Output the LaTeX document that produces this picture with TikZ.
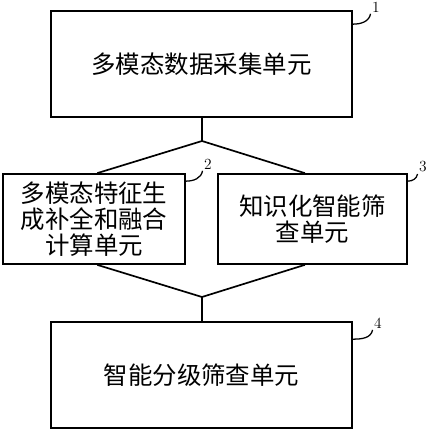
\documentclass[tikz,border=0pt]{standalone}
\usepackage{fontspec}
\usepackage{tikz}
\usetikzlibrary{calc}
\newfontfamily\cjk{Noto Sans CJK SC}

\begin{document}
\begin{tikzpicture}[x=0.25cm, y=0.25cm,
    unitbox/.style={draw, line width=1.2pt, align=center, inner sep=0pt,
      font=\cjk\fontsize{17.4}{18.6}\selectfont},
    numlabel/.style={font=\fontsize{11}{11}\selectfont, inner sep=1pt},
    leader/.style={line width=0.9pt},
    link/.style={line width=1.2pt}]
      \useasboundingbox (0,0) rectangle (43.1,-43.1);
      % --- units ---
      \node[unitbox, minimum width=7.525cm, minimum height=2.65cm] (u1) at (20.15,-6.4) {多模态数据采集单元};
      \node[unitbox, minimum width=4.55cm, minimum height=2.25cm] (u2) at (9.4,-21.9) {多模态特征生\\成补全和融合\\计算单元};
      \node[unitbox, minimum width=4.725cm, minimum height=2.25cm] (u3) at (31.25,-21.9) {知识化智能筛\\查单元};
      \node[unitbox, minimum width=7.525cm, minimum height=2.65cm] (u4) at (20.15,-37.5) {智能分级筛查单元};
      % --- connectors ---
      \coordinate (split) at (20.2,-14.1);
      \coordinate (merge) at (20.2,-29.7);
      \draw[link] (u1.south -| split) -- (split);
      \draw[link] ([xshift=0.08cm]u2.north) -- (split) -- ([xshift=-0.19cm]u3.north);
      \draw[link] ([xshift=0.08cm]u2.south) -- (merge) -- ([xshift=-0.19cm]u3.south);
      \draw[link] (merge) -- (u4.north -| merge);
      % --- reference numbers ---
      \node[numlabel] (n1) at (37.6,-0.7) {1};
      \node[numlabel] (n2) at (20.8,-16.4) {2};
      \node[numlabel] (n3) at (42.3,-16.7) {3};
      \node[numlabel] (n4) at (37.8,-32.3) {4};
      \draw[leader] ([yshift=-0.35cm]u1.north east) to[out=0,in=-100] (n1.south west);
      \draw[leader] ([yshift=-0.2cm]u2.north east) to[out=0,in=-100] (n2.south west);
      \draw[leader] ([yshift=-0.2cm]u3.north east) to[out=0,in=-100] (n3.south west);
      \draw[leader] ([yshift=-0.45cm]u4.north east) to[out=0,in=-100] (n4.south west);
\end{tikzpicture}
\end{document}
